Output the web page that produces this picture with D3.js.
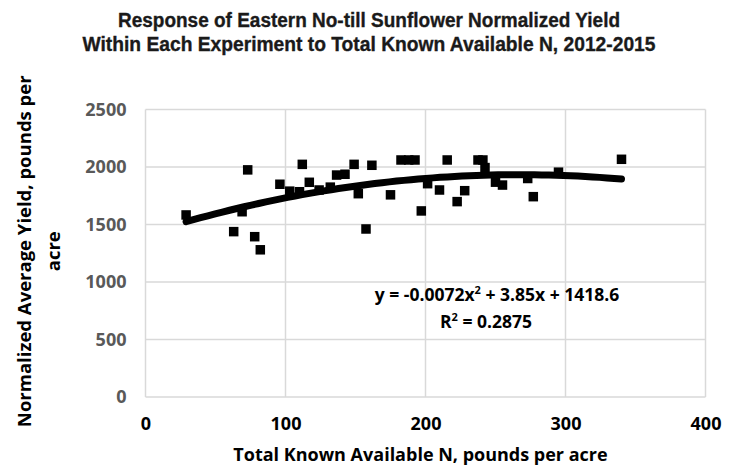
<!DOCTYPE html>
<html>
<head>
<meta charset="utf-8">
<script src="https://cdn.jsdelivr.net/npm/d3@7"></script>
<style>
  body { margin: 0; background: #fff; }
</style>
</head>
<body>
<script>
// -----------------------------
// Data
// -----------------------------
const totalN = [29, 63, 69, 73, 78, 82, 96, 103, 110, 112, 117, 124, 132, 136.5, 142.5,
  149, 152, 157.5, 161.7, 175, 182.5, 188, 192.5, 197, 201.5, 210, 215.5, 222.6, 228,
  237.5, 241, 242.5, 250, 255, 273, 277, 295, 340];
const yieldValues = [1583, 1438, 1611, 1975, 1394, 1280, 1850, 1790, 1785, 2023, 1867, 1800, 1825, 1930, 1937,
  2023, 1768, 1461, 2015, 1758, 2061, 2061, 2061, 1618, 1855, 1800, 2061, 1699, 1794,
  2061, 2061, 1995, 1868, 1843, 1900, 1742, 1955, 2067];
const xTicks = [0, 100, 200, 300, 400];
const yTicks = [0, 500, 1000, 1500, 2000, 2500];
// Excel polynomial trendline shown on the chart
const trendCoef = { a: -0.0072, b: 3.85, c: 1418.6 };
const titleLines = [
  "Response of Eastern No-till Sunflower Normalized Yield",
  "Within Each Experiment to Total Known Available N, 2012-2015"
];

// -----------------------------
// SVG Setup
// -----------------------------
const WIDTH = 738;
const HEIGHT = 470;
const PLOT = { left: 145.5, right: 705.5, top: 109.5, bottom: 397 };
const GRID = "#d9d9d9";
const TICK_COLOR = "#595959";
const FONT = "'Open Sans', sans-serif";

const svg = d3.select("body")
  .append("svg")
  .attr("width", WIDTH)
  .attr("height", HEIGHT)
  .attr("viewBox", `0 0 ${WIDTH} ${HEIGHT}`);

const x = d3.scaleLinear().domain([0, 400]).range([PLOT.left, PLOT.right]);
const y = d3.scaleLinear().domain([0, 2500]).range([PLOT.bottom, PLOT.top]);

// Title (condensed bold, like the original)
svg.append("text")
  .attr("text-anchor", "middle")
  .attr("font-family", "'Liberation Sans', Arial, sans-serif")
  .attr("font-weight", "bold")
  .attr("font-size", 20)
  .attr("fill", "#1a1a1a")
  .attr("stroke", "#1a1a1a")
  .attr("stroke-width", 0.35)
  .selectAll("tspan")
  .data(titleLines)
  .enter()
  .append("tspan")
  .attr("x", WIDTH / 2)
  .attr("y", (d, i) => 27 + i * 24)
  .attr("textLength", (d, i) => i === 0 ? 502 : 573)
  .attr("lengthAdjust", "spacingAndGlyphs")
  .text(d => d);

// Gridlines
svg.append("g")
  .selectAll("line")
  .data(yTicks)
  .enter()
  .append("line")
  .attr("x1", PLOT.left).attr("x2", PLOT.right)
  .attr("y1", d => y(d)).attr("y2", d => y(d))
  .attr("stroke", GRID).attr("stroke-width", 1.5);

svg.append("g")
  .selectAll("line")
  .data(xTicks)
  .enter()
  .append("line")
  .attr("y1", PLOT.top).attr("y2", PLOT.bottom)
  .attr("x1", d => x(d)).attr("x2", d => x(d))
  .attr("stroke", GRID).attr("stroke-width", 1.5);

// Axes (labels only, Excel style)
const xAxis = d3.axisBottom(x).tickValues(xTicks).tickFormat(d3.format("d")).tickSize(0).tickPadding(0);
svg.append("g")
  .attr("transform", `translate(0, ${PLOT.bottom + 20})`)
  .call(xAxis)
  .call(g => g.select(".domain").remove())
  .call(g => g.selectAll("text")
    .attr("dy", "0.71em")
    .attr("font-family", FONT)
    .attr("font-weight", "bold")
    .attr("font-size", 18)
    .attr("fill", "#000"));

const yAxis = d3.axisLeft(y).tickValues(yTicks).tickFormat(d3.format("d")).tickSize(0).tickPadding(0);
svg.append("g")
  .attr("transform", `translate(${PLOT.left - 19}, 0)`)
  .call(yAxis)
  .call(g => g.select(".domain").remove())
  .call(g => g.selectAll("text")
    .attr("font-family", FONT)
    .attr("font-weight", "bold")
    .attr("font-size", 18)
    .attr("fill", TICK_COLOR));

// Axis titles
svg.append("text")
  .attr("x", (PLOT.left + PLOT.right) / 2 - 5)
  .attr("y", 461)
  .attr("text-anchor", "middle")
  .attr("font-family", FONT)
  .attr("font-weight", "bold")
  .attr("font-size", 18)
  .attr("fill", "#000")
  .text("Total Known Available N, pounds per acre");

svg.append("text")
  .attr("transform", `translate(31, ${(PLOT.top + PLOT.bottom) / 2 - 2}) rotate(-90)`)
  .attr("text-anchor", "middle")
  .attr("font-family", FONT)
  .attr("font-weight", "bold")
  .attr("font-size", 18.5)
  .attr("fill", "#000")
  .call(t => t.append("tspan").attr("x", 0).attr("dy", 0).text("Normalized Average Yield, pounds per"))
  .call(t => t.append("tspan").attr("x", 0).attr("dy", 29).text("acre"));

// Points
const points = totalN.map((d, i) => ({ n: d, v: yieldValues[i] }));
const SIZE = 9.5;
svg.append("g")
  .selectAll("rect")
  .data(points)
  .enter()
  .append("rect")
  .attr("x", d => x(d.n) - SIZE / 2)
  .attr("y", d => y(d.v) - SIZE / 2)
  .attr("width", SIZE)
  .attr("height", SIZE)
  .attr("fill", "#000");

// Trendline across the data range
const nMin = d3.min(totalN);
const nMax = d3.max(totalN);
const trendData = d3.range(0, 61).map(i => {
  const n = nMin + (nMax - nMin) * i / 60;
  return [n, trendCoef.a * n * n + trendCoef.b * n + trendCoef.c];
});
svg.append("path")
  .datum(trendData)
  .attr("d", d3.line().x(d => x(d[0])).y(d => y(d[1])))
  .attr("fill", "none")
  .attr("stroke", "#000")
  .attr("stroke-width", 7)
  .attr("stroke-linecap", "round");

// Equation label
svg.append("text")
  .attr("text-anchor", "middle")
  .attr("font-family", FONT)
  .attr("font-weight", "bold")
  .attr("font-size", 17.5)
  .attr("fill", "#000")
  .call(t => {
    const l1 = t.append("tspan").attr("x", 497).attr("y", 301);
    l1.append("tspan").text("y = -0.0072x");
    l1.append("tspan").attr("font-size", 11).attr("dy", -7).text("2");
    l1.append("tspan").attr("dy", 7).text(" + 3.85x + 1418.6");
    const l2 = t.append("tspan").attr("x", 486).attr("y", 328);
    l2.append("tspan").text("R");
    l2.append("tspan").attr("font-size", 11).attr("dy", -7).text("2");
    l2.append("tspan").attr("dy", 7).text(" = 0.2875");
  });
</script>
</body>
</html>
